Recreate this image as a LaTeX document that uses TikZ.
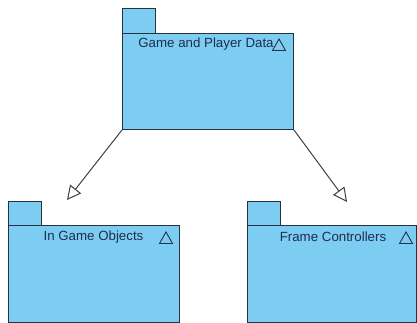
\documentclass[tikz,border=0pt]{standalone}
\usepackage{fontspec}
\setmainfont{Liberation Sans}
\usetikzlibrary{arrows.meta}
\definecolor{pkgfill}{RGB}{125,205,243}
\definecolor{pkgline}{RGB}{38,50,64}
\definecolor{pkgtext}{RGB}{28,46,78}
\tikzset{
  pkgbody/.style={draw=pkgline,fill=pkgfill,line width=1pt,anchor=north west,inner sep=0pt},
  pkgtab/.style={pkgbody,minimum width=33pt,minimum height=25pt},
  pkgname/.style={text=pkgtext,font=\fontsize{13.3}{15}\selectfont,inner sep=0pt},
  pkgmark/.pic={\draw[pkgline,line width=0.9pt] (0,-6) -- (6.5,5.5) -- (-6.5,5.5) -- cycle;},
  gen/.style={draw=black!75,line width=1pt,-{Triangle[open,length=14pt,width=14pt]}},
}
\begin{document}
\begin{tikzpicture}[x=1pt,y=-1pt]
  \useasboundingbox (0,0) rectangle (417,323);
  % package: Game and Player Data
  \node[pkgtab] (datatab) at (122,8) {};
  \node[pkgbody,minimum width=171pt,minimum height=96pt] (data) at (122,33) {};
  \node[pkgname] (dataname) at (206,44) {Game and Player Data};
  \pic at (279,45) {pkgmark};
  % package: In Game Objects
  \node[pkgtab] (objtab) at (8,201) {};
  \node[pkgbody,minimum width=171pt,minimum height=97pt] (obj) at (8,225) {};
  \node[pkgname] (objname) at (93.5,237) {In Game Objects};
  \pic at (166,238) {pkgmark};
  % package: Frame Controllers
  \node[pkgtab] (ctrltab) at (247,201) {};
  \node[pkgbody,minimum width=169pt,minimum height=97pt] (ctrl) at (247,225) {};
  \node[pkgname] (ctrlname) at (333,237) {Frame Controllers};
  \pic at (406,238) {pkgmark};
  % generalisation arrows
  \coordinate (objtip) at (67,200);
  \coordinate (ctrltip) at (347,202);
  \draw[gen] (data.south west) -- (objtip);
  \draw[gen] (data.south east) -- (ctrltip);
\end{tikzpicture}
\end{document}
